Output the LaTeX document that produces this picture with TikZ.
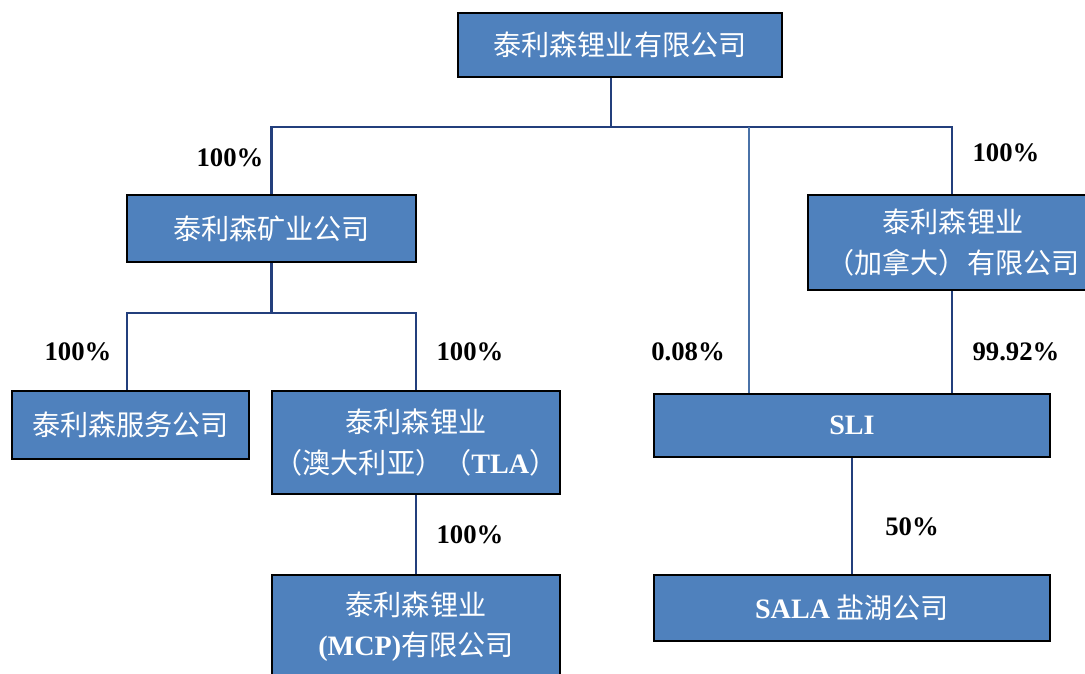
\documentclass[tikz,border=0pt]{standalone}
\usepackage{fontspec}
\setmainfont{Liberation Serif}
\newfontfamily\cjk{Noto Sans CJK SC}
\usetikzlibrary{positioning,calc}
\definecolor{boxblue}{HTML}{4F81BD}
\definecolor{linknavy}{HTML}{233F7C}
\definecolor{linksteel}{HTML}{4A72A8}
\tikzset{
  company/.style={draw=black, line width=1.2pt, fill=boxblue, text=white,
    align=center, inner sep=0pt, font=\fontsize{20pt}{28.5pt}\selectfont\cjk},
  link/.style={draw=linknavy, line width=1.8pt},
  share/.style={font=\fontsize{19pt}{22pt}\selectfont\bfseries}
}
\newcommand{\tms}[1]{{\rmfamily\bfseries #1}}
\begin{document}
\begin{tikzpicture}[x=0.025cm, y=-0.025cm]
  \clip (0,0) rectangle (1085,673);
  \fill[white] (0,0) rectangle (1085,673);
  % companies
  \node[company, minimum width=8.1cm,   minimum height=1.6cm]   (parent)  at (620,45)    {泰利森锂业有限公司};
  \node[company, minimum width=7.225cm, minimum height=1.675cm] (mining)  at (271.5,228.5) {泰利森矿业公司};
  \node[company, minimum width=7.25cm,  minimum height=2.375cm] (canada)  at (953,242.5) {泰利森锂业\\（加拿大）有限公司};
  \node[company, minimum width=5.925cm, minimum height=1.7cm]   (service) at (130.5,425) {泰利森服务公司};
  \node[company, minimum width=7.2cm,   minimum height=2.575cm] (tla)     at (416,442.5) {泰利森锂业\\（澳大利亚）（\tms{TLA}）};
  \node[company, minimum width=9.9cm,   minimum height=1.575cm] (sli)     at (852,425.5) {\tms{SLI}};
  \node[company, minimum width=7.2cm,   minimum height=2.575cm] (mcp)     at (416,626.5) {泰利森锂业\\\tms{(MCP)}有限公司};
  \node[company, minimum width=9.9cm,   minimum height=1.65cm]  (sala)    at (852,608)   {\tms{SALA} 盐湖公司};

  % ownership links
  \coordinate (bus) at (611,127);
  \draw[link] (parent.south -| bus) -- (bus);
  \draw[link] (mining.north) |- (bus) -| (canada.north -| 952,0);
  \draw[link, draw=linksteel] (749,127) -- (sli.north -| 749,0);
  \draw[link] (mining.south) -- ++(0,50) coordinate (fork);
  \draw[link] (service.north -| 127,0) |- (fork) -| (tla.north);
  \draw[link] (tla.south) -- (mcp.north);
  \draw[link] (canada.south -| 952,0) -- (sli.north -| 952,0);
  \draw[link] (sli.south) -- (sala.north);

  % percentages
  \node[share] (p1) at (230,158) {100\%};
  \node[share] (p2) at (1006,153) {100\%};
  \node[share] (p3) at (78,352)  {100\%};
  \node[share] (p4) at (470,352) {100\%};
  \node[share] (p5) at (688,352) {0.08\%};
  \node[share] (p6) at (1016,352) {99.92\%};
  \node[share] (p7) at (470,535) {100\%};
  \node[share] (p8) at (912,527) {50\%};
\end{tikzpicture}
\end{document}
